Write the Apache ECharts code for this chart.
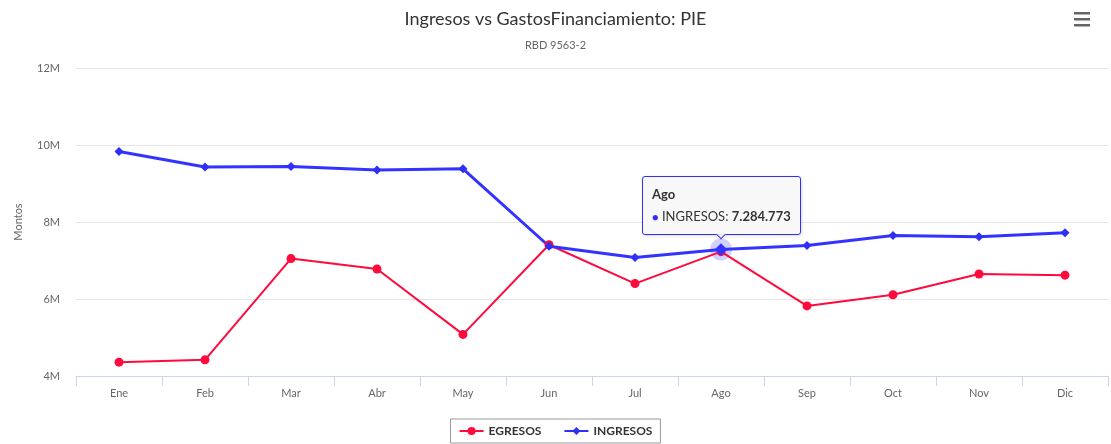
<!DOCTYPE html>
<html>
<head>
<meta charset="utf-8">
<script src="https://cdn.jsdelivr.net/npm/echarts@6/dist/echarts.min.js"></script>
<style>
  html, body { margin: 0; padding: 0; background: #fff; }
  #chart { width: 1111px; height: 444px; }
</style>
</head>
<body>
<div id="chart"></div>
<script>
// meses
var meses = ["Ene", "Feb", "Mar", "Abr", "May", "Jun", "Jul", "Ago", "Sep", "Oct", "Nov", "Dic"];
// montos
var egresos = [4360000, 4420000, 7050000, 6780000, 5080000, 7410000, 6400000, 7230000, 5820000, 6110000, 6650000, 6620000];
var ingresos = [9830000, 9430000, 9440000, 9350000, 9380000, 7370000, 7080000, 7284773, 7390000, 7650000, 7620000, 7720000];
var ejeY = { min: 4000000, max: 12000000, interval: 2000000 };
var marcado = 7; // punto con tooltip (Ago)

var rojo = "#ff0a3c";
var azul = "#2f2ff5";
var fuente = "Lato, 'Open Sans', sans-serif";

function miles(v) {
  return String(v).replace(/\B(?=(\d{3})+(?!\d))/g, ".");
}

var myChart = echarts.init(document.getElementById("chart"));
myChart.setOption({
  animation: false,
  textStyle: { fontFamily: fuente },
  title: {
    text: "Ingresos vs GastosFinanciamiento: PIE",
    subtext: "RBD 9563-2",
    left: "center",
    top: 5,
    itemGap: 12,
    textStyle: { color: "#333", fontSize: 18, fontWeight: "normal", fontFamily: fuente },
    subtextStyle: { color: "#666", fontSize: 11, fontFamily: fuente }
  },
  toolbox: {
    right: 6,
    top: -3,
    itemSize: 16,
    feature: {
      myMenu: {
        show: true,
        title: "",
        icon: "path://M0,0H16V2.4H0Z M0,6H16V8.4H0Z M0,12H16V14.4H0Z",
        onclick: function () {}
      }
    },
    iconStyle: { color: "#666", borderColor: "#666", borderWidth: 0 }
  },
  legend: {
    bottom: 1,
    left: "center",
    data: ["EGRESOS", "INGRESOS"],
    borderColor: "#999",
    borderWidth: 1,
    padding: [6, 8, 6, 8],
    itemGap: 22,
    itemWidth: 24,
    itemHeight: 10,
    textStyle: { color: "#333", fontSize: 12, fontWeight: "bold", fontFamily: fuente }
  },
  tooltip: {
    trigger: "item",
    position: "top",
    backgroundColor: "rgba(247,247,247,0.9)",
    borderColor: azul,
    borderWidth: 1,
    borderRadius: 3,
    padding: [7, 9],
    extraCssText: "box-shadow: 1px 1px 3px rgba(0,0,0,0.15);",
    textStyle: { color: "#333", fontSize: 13, fontFamily: fuente },
    formatter: function (p) {
      return "<div style='font-weight:bold;font-size:13px;margin-bottom:2px'>" + p.name + "</div>" +
        "<span style='color:" + p.color + ";font-size:11px'>\u25CF</span> " + p.seriesName + ": <b>" + miles(p.value) + "</b>";
    }
  },
  grid: { left: 76, right: 3, top: 68, bottom: 68 },
  xAxis: {
    type: "category",
    data: meses,
    boundaryGap: true,
    axisLine: { lineStyle: { color: "#ccd6eb" } },
    axisTick: { show: true, length: 10, lineStyle: { color: "#ccd6eb" } },
    axisLabel: { color: "#666", fontSize: 11, margin: 12 }
  },
  yAxis: {
    type: "value",
    min: ejeY.min,
    max: ejeY.max,
    interval: ejeY.interval,
    name: "Montos",
    nameLocation: "middle",
    nameGap: 52,
    nameTextStyle: { color: "#666", fontSize: 11 },
    axisLine: { show: false },
    axisTick: { show: false },
    axisLabel: {
      color: "#666",
      fontSize: 11,
      margin: 16,
      formatter: function (v) { return v / 1000000 + "M"; }
    },
    splitLine: { lineStyle: { color: "#e6e6e6" } }
  },
  series: [
    {
      name: "EGRESOS",
      type: "line",
      data: egresos,
      color: rojo,
      symbol: "circle",
      symbolSize: 9,
      showAllSymbol: true,
      lineStyle: { width: 2, color: rojo },
      itemStyle: { color: rojo },
      emphasis: { disabled: true }
    },
    {
      name: "INGRESOS",
      type: "line",
      data: ingresos,
      color: azul,
      symbol: "diamond",
      symbolSize: 9,
      showAllSymbol: true,
      z: 3,
      lineStyle: { width: 3, color: azul },
      itemStyle: { color: azul },
      emphasis: { scale: 1.4, lineStyle: { width: 3 } },
      // halo del punto marcado
      markPoint: {
        silent: true,
        symbol: "circle",
        symbolSize: 22,
        z: 1,
        itemStyle: { color: "rgba(47,47,245,0.22)" },
        label: { show: false },
        data: [{ coord: [meses[marcado], ingresos[marcado]] }]
      }
    }
  ]
});

setTimeout(function () {
  myChart.dispatchAction({ type: "highlight", seriesIndex: 1, dataIndex: marcado });
  myChart.dispatchAction({ type: "showTip", seriesIndex: 1, dataIndex: marcado });
}, 50);
</script>
</body>
</html>
